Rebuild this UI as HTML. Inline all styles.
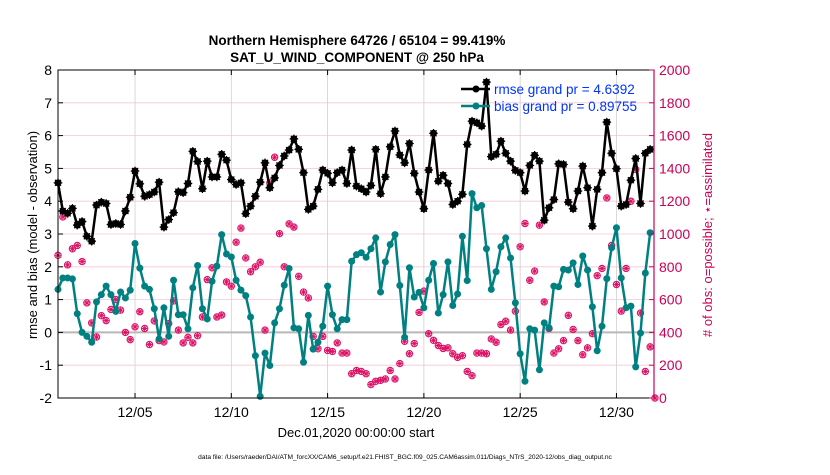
<!DOCTYPE html>
<html><head><meta charset="utf-8"><style>
html,body{margin:0;padding:0;background:#fff;}
svg text{font-family:"Liberation Sans",Arial,sans-serif;}
</style></head><body>
<svg id="chart" width="830" height="470" viewBox="0 0 830 470" xmlns="http://www.w3.org/2000/svg">
<rect width="830" height="470" fill="#fff"/>
<text x="357" y="45" text-anchor="middle" font-size="13.5" font-weight="bold">Northern Hemisphere 64726 / 65104 = 99.419%</text>
<text x="357" y="62" text-anchor="middle" font-size="13.5" font-weight="bold">SAT_U_WIND_COMPONENT @ 250 hPa</text>
<g id="grid"></g>
<g id="marks"></g>
<g id="axes"></g>
<text transform="translate(37,235) rotate(-90)" text-anchor="middle" font-size="13">rmse and bias (model - observation)</text>
<text transform="translate(712,235) rotate(-90)" text-anchor="middle" font-size="13" fill="#cc0055"># of obs: o=possible; &#8902;=assimilated</text>
<text x="356" y="437" text-anchor="middle" font-size="13">Dec.01,2020 00:00:00 start</text>
<text x="405" y="459" text-anchor="middle" font-size="6.6">data file: /Users/raeder/DAI/ATM_forcXX/CAM6_setup/f.e21.FHIST_BGC.f09_025.CAM6assim.011/Diags_NTrS_2020-12/obs_diag_output.nc</text>
<g>
<line x1="461" y1="89" x2="490" y2="89" stroke="#000" stroke-width="2.5"/>
<circle cx="476" cy="89" r="3.5" fill="#000"/>
<text x="494" y="94" font-size="13.5" fill="#0033ff">rmse grand pr = 4.6392</text>
<line x1="461" y1="106" x2="490" y2="106" stroke="#008080" stroke-width="2.5"/>
<circle cx="476" cy="106" r="3.5" fill="#008080"/>
<text x="494" y="111" font-size="13.5" fill="#0033ff">bias grand pr = 0.89755</text>
</g>
</svg>
<script>
const xTickLabels = ["12/05","12/10","12/15","12/20","12/25","12/30"];
const xTickDays = [4,9,14,19,24,29];
const yLeftTicks = [-2,-1,0,1,2,3,4,5,6,7,8];
const yRightTicks = [0,200,400,600,800,1000,1200,1400,1600,1800,2000];
const rmse = [4.56,3.70,3.63,3.78,3.27,3.38,2.93,2.78,3.88,3.97,3.93,3.29,3.32,3.29,3.70,4.12,4.92,4.53,4.15,4.20,4.28,4.58,3.21,3.44,3.65,4.29,4.26,4.54,5.52,5.21,4.38,5.22,4.74,4.74,5.43,5.25,4.66,4.51,4.56,3.62,3.85,4.15,4.58,5.17,4.41,4.71,5.09,5.38,5.56,5.90,5.58,4.87,3.75,3.85,4.36,4.95,4.85,4.56,4.87,4.95,4.54,5.56,4.46,4.38,4.28,4.48,5.58,4.23,4.74,5.66,6.14,5.41,5.17,5.76,4.85,4.28,3.77,4.95,6.07,4.61,4.79,4.54,3.90,4.00,4.21,5.73,6.44,6.39,6.29,7.63,5.36,5.43,5.83,5.46,5.22,4.94,4.87,4.31,5.09,5.40,5.22,3.42,3.80,4.05,5.14,5.12,3.97,3.77,4.31,5.07,4.41,3.24,4.36,4.87,6.41,5.46,4.99,3.85,3.90,4.64,5.30,3.93,5.46,5.58];
const bias = [1.31,1.66,1.66,1.63,0.57,0.00,-0.12,-0.30,0.93,1.15,1.41,1.15,0.64,1.23,1.05,1.29,2.71,1.96,1.41,1.31,0.72,-0.20,0.75,-0.12,1.59,0.54,0.54,0.11,1.36,2.04,0.72,0.41,1.56,2.02,2.98,2.39,2.30,1.59,1.29,1.12,0.47,-0.71,-1.95,-0.63,-1.01,0.29,0.72,1.44,1.95,0.14,0.11,-0.91,0.52,-0.51,-0.30,0.19,1.41,0.54,0.11,0.39,0.39,2.17,2.37,2.43,2.29,2.55,2.88,1.23,2.15,2.68,2.98,1.43,-0.15,1.97,1.08,1.22,0.75,1.59,2.10,0.59,1.15,2.15,0.82,1.17,2.93,1.58,4.23,3.80,3.87,2.55,1.31,1.85,2.61,2.88,2.27,0.90,-0.65,-1.49,0.11,0.07,-1.14,0.29,0.14,1.41,1.39,1.92,1.90,2.12,1.46,2.33,1.90,0.78,-0.56,0.19,1.64,2.58,3.19,1.66,0.75,0.80,-1.05,-0.02,1.81,3.04];
const obsCount = [870,1104,812,910,930,832,580,458,372,502,472,540,600,536,400,356,434,526,424,326,470,350,342,454,592,414,336,370,336,380,494,722,794,494,506,708,682,950,1036,854,770,800,828,414,1312,1468,1002,800,1062,1042,742,646,610,376,300,376,290,284,336,274,274,148,168,162,148,82,102,108,116,168,116,210,346,270,332,522,652,392,352,320,302,306,270,248,258,162,136,274,274,270,360,340,448,468,414,530,922,1064,718,774,1054,586,424,274,300,350,504,418,350,264,306,392,746,790,1220,930,692,530,790,1200,1394,518,162,312,0];

const NS = "http://www.w3.org/2000/svg";
const L = 58, R = 654, T = 70, B = 398;
const STEP = 0.25, DAYSPAN = 30.95;
const x = d => L + d / DAYSPAN * (R - L);
const yL = v => B - (v + 2) / 10 * (B - T);
const yR = n => B - n / 2000 * (B - T);
function mk(tag, attrs, parent){ const e=document.createElementNS(NS,tag); for(const k in attrs) e.setAttribute(k,attrs[k]); parent.appendChild(e); return e; }
const grid=document.getElementById('grid'), marks=document.getElementById('marks'), axes=document.getElementById('axes');

yLeftTicks.forEach(v=>{ if(v>-2&&v<8){ const l=mk('line',{x1:L,x2:R,y1:yL(v),y2:yL(v),stroke:'#f3c6d8','stroke-width':0.8},grid);   }});
xTickDays.forEach(d=>{ const l=mk('line',{x1:x(d),x2:x(d),y1:T,y2:B,stroke:'#d0d0d0','stroke-width':0.8},grid);   });
const zl=mk('line',{x1:L,x2:R,y1:yL(0),y2:yL(0),stroke:'#b8b8b8','stroke-width':2},grid);



// obs markers
obsCount.forEach((n,i)=>{ if(n==null) return; const cx=x(i*STEP), cy=yR(n);
  const g=mk('g',{},marks);
  
  
  mk('circle',{cx:cx,cy:cy,r:3.2,fill:'none',stroke:'#dd1166','stroke-width':1},g);
  for(let a=0;a<4;a++){ const ang=a*Math.PI/4; mk('line',{x1:cx-3.2*Math.cos(ang),y1:cy-3.2*Math.sin(ang),x2:cx+3.2*Math.cos(ang),y2:cy+3.2*Math.sin(ang),stroke:'#dd1166','stroke-width':1},g); }
});

function series(vals,color,name,starMarker){
  const pts=vals.map((v,i)=>x(i*STEP)+','+yL(v)).join(' ');
  const pl=mk('polyline',{points:pts,fill:'none',stroke:color,'stroke-width':2.5,'stroke-linejoin':'round'},marks);
  
  
  vals.forEach((v,i)=>{ const cx=x(i*STEP), cy=yL(v);
    const c=mk('circle',{cx:cx,cy:cy,r:3.5,fill:color},marks);
    
    
    if(starMarker){ for(let a=0;a<4;a++){ const ang=a*Math.PI/4; mk('line',{x1:cx-4.3*Math.cos(ang),y1:cy-4.3*Math.sin(ang),x2:cx+4.3*Math.cos(ang),y2:cy+4.3*Math.sin(ang),stroke:color,'stroke-width':1.2},marks);} }
  });
}
series(bias,'#008080','bias',false);
series(rmse,'#000000','rmse',true);

// axes frame
const fr=mk('rect',{x:L,y:T,width:R-L,height:B-T,fill:'none',stroke:'#000','stroke-width':1},axes);


const ra=mk('line',{x1:R,x2:R,y1:T,y2:B,stroke:'#cc0055','stroke-width':1.2},axes);


yLeftTicks.forEach(v=>{ mk('line',{x1:L,x2:L+5,y1:yL(v),y2:yL(v),stroke:'#000'},axes);
  const t=mk('text',{x:L-6,y:yL(v)+5,'text-anchor':'end','font-size':14},axes); t.textContent=v;
  
   });
yRightTicks.forEach(n=>{ mk('line',{x1:R-5,x2:R,y1:yR(n),y2:yR(n),stroke:'#cc0055'},axes);
  const t=mk('text',{x:R+5,y:yR(n)+5,'font-size':14,fill:'#cc0055'},axes); t.textContent=n;
  
   });
xTickDays.forEach((d,k)=>{ mk('line',{x1:x(d),x2:x(d),y1:B,y2:B-5,stroke:'#000'},axes); mk('line',{x1:x(d),x2:x(d),y1:T,y2:T+5,stroke:'#000'},axes);
  const t=mk('text',{x:x(d),y:B+19,'text-anchor':'middle','font-size':14},axes); t.textContent=xTickLabels[k];
  
   });
</script>
</body></html>
